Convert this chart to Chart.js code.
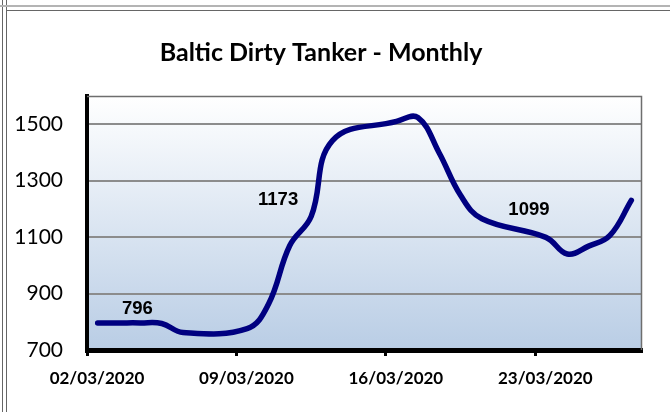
<!DOCTYPE html>
<html>
<head>
<meta charset="utf-8">
<script src="https://cdn.jsdelivr.net/npm/chart.js@4/dist/chart.umd.min.js"></script>
<style>
  html,body{margin:0;padding:0;background:#fff;}
  #wrap{position:relative;width:670px;height:412px;overflow:hidden;}
  #c{position:absolute;left:0;top:0;}
  .ln{position:absolute;}
</style>
</head>
<body>
<div id="wrap">
  <canvas id="c" width="670" height="412"></canvas>
  <div class="ln" style="left:2px;top:0;width:1px;height:412px;background:#666"></div>
  <div class="ln" style="left:6px;top:0;width:1px;height:412px;background:#666"></div>
  <div class="ln" style="left:0;top:5px;width:670px;height:2px;background:#b4b4b4"></div>
  <div class="ln" style="left:6px;top:10px;width:664px;height:1px;background:#666"></div>
</div>
<script>
// daily fixings, business days only
const dates = ["02/03/2020","03/03/2020","04/03/2020","05/03/2020","06/03/2020",
  "09/03/2020","10/03/2020","11/03/2020","12/03/2020","13/03/2020",
  "16/03/2020","17/03/2020","18/03/2020","19/03/2020","20/03/2020",
  "23/03/2020","24/03/2020","25/03/2020","26/03/2020","27/03/2020"];
const values = [796,796,796,794,762, 776,862,1070,1173,1442, 1510,1524,1398,1248,1165, 1099,1040,1068,1106,1230];
const yTicks = [700,900,1100,1300,1500];
const xTickLabels = ["02/03/2020","09/03/2020","16/03/2020","23/03/2020"];
const labelIdx = [2,8,15];   // points that carry a value label

const parseD = s=>{ const [d,m,y]=s.split("/").map(Number); return new Date(y,m-1,d); };
const day0 = parseD(dates[0]);
const dayOf = s=> Math.round((parseD(s)-day0)/86400000);

const pts = dates.map((d,i)=>({x:dayOf(d)+0.5, y:values[i]}));

// label offsets relative to their point (px)
const labelOff = [[-3,-14],[-33,-17],[-17,-27]];

const plotBg = {
  id:"plotBg",
  beforeDraw(ch){ const a=ch.chartArea, ctx=ch.ctx;
    const g=ctx.createLinearGradient(0,a.top,0,a.bottom);
    g.addColorStop(0,"#ffffff"); g.addColorStop(1,"#b9cde5");
    ctx.save(); ctx.fillStyle=g; ctx.fillRect(a.left,a.top,a.right-a.left,a.bottom-a.top); ctx.restore(); },
  beforeDatasetsDraw(ch){ const a=ch.chartArea, ctx=ch.ctx;
    ctx.save(); ctx.strokeStyle="#6e6e6e"; ctx.lineWidth=1.5;
    ctx.beginPath(); ctx.moveTo(a.left,a.top+0.5); ctx.lineTo(a.right-0.5,a.top+0.5); ctx.lineTo(a.right-0.5,a.bottom); ctx.stroke(); ctx.restore(); }
};
const valLabels = {
  id:"valLabels",
  afterDatasetsDraw(ch){ const ctx=ch.ctx, meta=ch.getDatasetMeta(0);
    ctx.save(); ctx.font="bold 18.5px 'Liberation Sans', Arial, sans-serif"; ctx.fillStyle="#000";
    ctx.textAlign="center"; ctx.textBaseline="middle";
    labelIdx.forEach((i,k)=>{ const p=meta.data[i]; ctx.fillText(String(values[i]), p.x+labelOff[k][0], p.y+labelOff[k][1]); });
    ctx.restore(); }
};

new Chart(document.getElementById("c"), {
  type:"line",
  data:{ datasets:[{ data:pts, borderColor:"#000080", borderWidth:5.5, pointRadius:0, tension:0.4, fill:false,
    borderCapStyle:"round", borderJoinStyle:"round" }] },
  options:{
    responsive:false, devicePixelRatio:1, animation:false,
    layout:{ padding:{left:0,right:28,top:0,bottom:0} },
    plugins:{
      legend:{display:false}, tooltip:{enabled:false},
      title:{ display:true, text:"Baltic Dirty Tanker - Monthly", color:"#000",
        font:{family:"Lato", size:25, weight:"bold"}, padding:{top:38,bottom:28} }
    },
    scales:{
      x:{ type:"linear", min:0, max:26,
        afterBuildTicks: s=>{ s.ticks = xTickLabels.map(l=>({value:dayOf(l)})); },
        afterFit: s=>{ s.height=62; },
        ticks:{ color:"#000", font:{family:"Lato", size:17, weight:"bold"}, padding:12, maxRotation:0, autoSkip:false,
          labelOffset:10, callback:(v,i)=>xTickLabels[i] },
        grid:{ drawOnChartArea:false, drawTicks:true, tickLength:6, tickColor:"#000", tickWidth:3 },
        border:{ display:true, color:"#000", width:5 } },
      y:{ min:700, max:1600,
        afterBuildTicks: s=>{ s.ticks = yTicks.map(v=>({value:v})); },
        afterFit: s=>{ s.width=87; },
        ticks:{ color:"#000", font:{family:"Lato", size:21}, padding:24, callback:v=>String(v) },
        grid:{ color:"#8c8c8c", lineWidth:2, drawTicks:false },
        border:{ display:true, color:"#000", width:4 } }
    }
  },
  plugins:[plotBg, valLabels]
});
</script>
</body>
</html>
